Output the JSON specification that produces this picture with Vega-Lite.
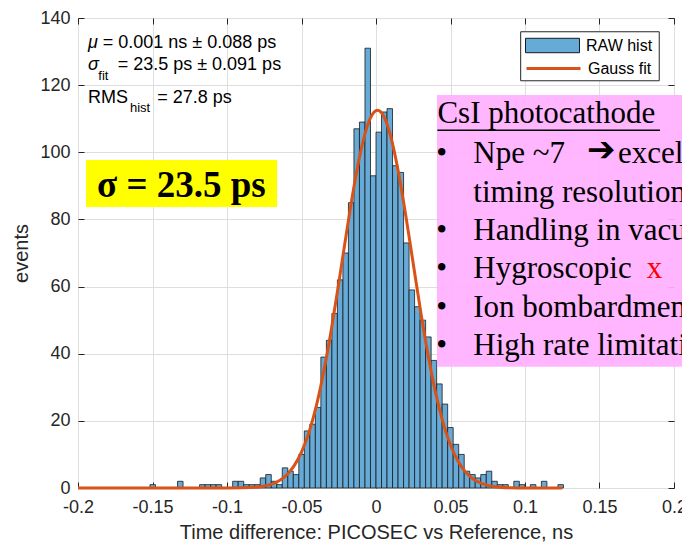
{
  "$schema": "https://vega.github.io/schema/vega-lite/v6.json",
  "width": 596,
  "height": 470,
  "autosize": {"type": "none"},
  "padding": {"left": 78, "top": 18, "right": 8, "bottom": 54},
  "config": {
    "view": {"stroke": "#262626", "strokeWidth": 1},
    "font": "Liberation Sans",
    "axis": {
      "labelFont": "Liberation Sans",
      "labelFontSize": 18,
      "labelColor": "#262626",
      "titleFont": "Liberation Sans",
      "titleFontSize": 20,
      "titleFontWeight": "normal",
      "titleColor": "#262626",
      "gridColor": "#dedede",
      "gridOpacity": 1,
      "tickColor": "#262626",
      "domain": false
    },
    "legend": {
      "labelFont": "Liberation Sans",
      "labelFontSize": 16,
      "labelColor": "#000000",
      "padding": 0,
      "symbolSize": 2916
    }
  },
  "resolve": {"axis": {"x": "independent", "y": "independent"}},
  "layer": [
    {
      "data": {"values": [
        {"bin_start": -0.1517, "bin_end": -0.148, "count": 1},
        {"bin_start": -0.1332, "bin_end": -0.1295, "count": 2},
        {"bin_start": -0.1184, "bin_end": -0.1147, "count": 1},
        {"bin_start": -0.1147, "bin_end": -0.111, "count": 1},
        {"bin_start": -0.111, "bin_end": -0.1073, "count": 1},
        {"bin_start": -0.1073, "bin_end": -0.1036, "count": 1},
        {"bin_start": -0.0962, "bin_end": -0.0925, "count": 2},
        {"bin_start": -0.0925, "bin_end": -0.0888, "count": 2},
        {"bin_start": -0.0888, "bin_end": -0.0851, "count": 1},
        {"bin_start": -0.0851, "bin_end": -0.0814, "count": 1},
        {"bin_start": -0.0814, "bin_end": -0.0777, "count": 1},
        {"bin_start": -0.0777, "bin_end": -0.074, "count": 3},
        {"bin_start": -0.074, "bin_end": -0.0703, "count": 4},
        {"bin_start": -0.0703, "bin_end": -0.0666, "count": 2},
        {"bin_start": -0.0666, "bin_end": -0.0629, "count": 1},
        {"bin_start": -0.0629, "bin_end": -0.0592, "count": 6},
        {"bin_start": -0.0592, "bin_end": -0.0555, "count": 5},
        {"bin_start": -0.0555, "bin_end": -0.0518, "count": 4},
        {"bin_start": -0.0518, "bin_end": -0.0481, "count": 10},
        {"bin_start": -0.0481, "bin_end": -0.0444, "count": 17},
        {"bin_start": -0.0444, "bin_end": -0.0407, "count": 19},
        {"bin_start": -0.0407, "bin_end": -0.037, "count": 24},
        {"bin_start": -0.037, "bin_end": -0.0333, "count": 39},
        {"bin_start": -0.0333, "bin_end": -0.0296, "count": 44},
        {"bin_start": -0.0296, "bin_end": -0.0259, "count": 52},
        {"bin_start": -0.0259, "bin_end": -0.0222, "count": 62},
        {"bin_start": -0.0222, "bin_end": -0.0185, "count": 70},
        {"bin_start": -0.0185, "bin_end": -0.0148, "count": 85},
        {"bin_start": -0.0148, "bin_end": -0.0111, "count": 107},
        {"bin_start": -0.0111, "bin_end": -0.0074, "count": 109},
        {"bin_start": -0.0074, "bin_end": -0.0037, "count": 131},
        {"bin_start": -0.0037, "bin_end": 0, "count": 93},
        {"bin_start": 0, "bin_end": 0.0037, "count": 106},
        {"bin_start": 0.0037, "bin_end": 0.0074, "count": 112},
        {"bin_start": 0.0074, "bin_end": 0.0111, "count": 113},
        {"bin_start": 0.0111, "bin_end": 0.0148, "count": 96},
        {"bin_start": 0.0148, "bin_end": 0.0185, "count": 94},
        {"bin_start": 0.0185, "bin_end": 0.0222, "count": 73},
        {"bin_start": 0.0222, "bin_end": 0.0259, "count": 59},
        {"bin_start": 0.0259, "bin_end": 0.0296, "count": 54},
        {"bin_start": 0.0296, "bin_end": 0.0333, "count": 50},
        {"bin_start": 0.0333, "bin_end": 0.037, "count": 45},
        {"bin_start": 0.037, "bin_end": 0.0407, "count": 38},
        {"bin_start": 0.0407, "bin_end": 0.0444, "count": 31},
        {"bin_start": 0.0444, "bin_end": 0.0481, "count": 25},
        {"bin_start": 0.0481, "bin_end": 0.0518, "count": 18},
        {"bin_start": 0.0518, "bin_end": 0.0555, "count": 13},
        {"bin_start": 0.0555, "bin_end": 0.0592, "count": 10},
        {"bin_start": 0.0592, "bin_end": 0.0629, "count": 5},
        {"bin_start": 0.0629, "bin_end": 0.0666, "count": 4},
        {"bin_start": 0.0666, "bin_end": 0.0703, "count": 3},
        {"bin_start": 0.0703, "bin_end": 0.074, "count": 4},
        {"bin_start": 0.074, "bin_end": 0.0777, "count": 5},
        {"bin_start": 0.0777, "bin_end": 0.0814, "count": 2},
        {"bin_start": 0.0814, "bin_end": 0.0851, "count": 1},
        {"bin_start": 0.0851, "bin_end": 0.0888, "count": 1},
        {"bin_start": 0.0925, "bin_end": 0.0962, "count": 2},
        {"bin_start": 0.0962, "bin_end": 0.0999, "count": 1},
        {"bin_start": 0.1036, "bin_end": 0.1073, "count": 1},
        {"bin_start": 0.111, "bin_end": 0.1147, "count": 2},
        {"bin_start": 0.1221, "bin_end": 0.1258, "count": 1}
      ]},
      "mark": {"type": "rect", "stroke": "#1a1a1a", "strokeWidth": 0.8, "opacity": 1},
      "encoding": {
        "x": {"field": "bin_start", "type": "quantitative",
          "scale": {"domain": [-0.2, 0.2], "nice": false, "zero": false},
          "axis": {"orient": "bottom", "title": "Time difference: PICOSEC vs Reference, ns",
            "values": [-0.2, -0.15, -0.1, -0.05, 0, 0.05, 0.1, 0.15, 0.2],
            "labelExpr": "datum.value == 0 ? '0' : (datum.value < 0 ? '-' : '') + format(abs(datum.value), '~g')",
            "grid": true, "tickSize": -6, "labelPadding": 16, "titlePadding": 6,
            "labelFlush": false, "labelOverlap": false}},
        "x2": {"field": "bin_end"},
        "y": {"field": "count", "type": "quantitative",
          "scale": {"domain": [0, 140], "nice": false},
          "axis": {"orient": "left", "title": "events", "values": [0, 20, 40, 60, 80, 100, 120, 140],
            "grid": true, "tickSize": -6, "labelPadding": 14, "titlePadding": 8, "labelFlush": false}},
        "y2": {"datum": 0},
        "fill": {"datum": "RAW hist", "type": "nominal",
          "scale": {"domain": ["RAW hist"], "range": ["#66AAD7"]},
          "legend": {"title": null, "orient": "none", "legendX": 447, "legendY": 0,
            "symbolType": "M-1,-0.267H1V0.267H-1Z", "symbolStrokeColor": "#1a1a1a",
            "symbolStrokeWidth": 1, "labelOffset": 6}}
      }
    },
    {
      "data": {"values": [
        {"t": -0.2, "g": 0}, {"t": -0.12, "g": 0}, {"t": -0.1, "g": 0.011}, {"t": -0.09, "g": 0.062},
        {"t": -0.08, "g": 0.3}, {"t": -0.075, "g": 0.6}, {"t": -0.07, "g": 1.17}, {"t": -0.065, "g": 2.18},
        {"t": -0.06, "g": 3.87}, {"t": -0.055, "g": 6.58}, {"t": -0.05, "g": 10.67}, {"t": -0.045, "g": 16.56},
        {"t": -0.04, "g": 24.56}, {"t": -0.035, "g": 34.81}, {"t": -0.03, "g": 47.14}, {"t": -0.025, "g": 61.01},
        {"t": -0.02, "g": 75.46}, {"t": -0.015, "g": 89.22}, {"t": -0.01, "g": 100.82}, {"t": -0.005, "g": 108.89},
        {"t": 0, "g": 112.4}, {"t": 0.001, "g": 112.5}, {"t": 0.005, "g": 110.88}, {"t": 0.01, "g": 104.55},
        {"t": 0.015, "g": 94.21}, {"t": 0.02, "g": 81.13}, {"t": 0.025, "g": 66.78}, {"t": 0.03, "g": 52.54},
        {"t": 0.035, "g": 39.49}, {"t": 0.04, "g": 28.38}, {"t": 0.045, "g": 19.5}, {"t": 0.05, "g": 12.79},
        {"t": 0.055, "g": 8.03}, {"t": 0.06, "g": 4.81}, {"t": 0.065, "g": 2.76}, {"t": 0.07, "g": 1.51},
        {"t": 0.075, "g": 0.79}, {"t": 0.08, "g": 0.4}, {"t": 0.09, "g": 0.087}, {"t": 0.1, "g": 0.016},
        {"t": 0.125, "g": 0}
      ]},
      "mark": {"type": "line", "strokeWidth": 3, "interpolate": "monotone"},
      "encoding": {
        "x": {"field": "t", "type": "quantitative",
          "scale": {"domain": [-0.2, 0.2], "nice": false, "zero": false},
          "axis": {"orient": "top", "title": null, "labels": false, "grid": false,
            "values": [-0.2, -0.15, -0.1, -0.05, 0, 0.05, 0.1, 0.15, 0.2], "tickSize": -6}},
        "y": {"field": "g", "type": "quantitative",
          "scale": {"domain": [0, 140], "nice": false},
          "axis": {"orient": "right", "title": null, "labels": false, "grid": false,
            "values": [0, 20, 40, 60, 80, 100, 120, 140], "tickSize": -6}},
        "stroke": {"datum": "Gauss fit", "type": "nominal",
          "scale": {"domain": ["Gauss fit"], "range": ["#D95319"]},
          "legend": {"title": null, "orient": "none", "legendX": 447, "legendY": 22,
            "symbolType": "stroke", "symbolStrokeWidth": 3, "labelOffset": 6}}
      }
    },
    {
      "data": {"values": [{"x1": 0.0971, "x2": 0.1901, "y1": 121.3, "y2": 135.9}]},
      "mark": {"type": "rect", "fill": "#ffffff", "stroke": "#262626", "strokeWidth": 1},
      "encoding": {
        "x": {"field": "x1", "type": "quantitative", "scale": {"domain": [-0.2, 0.2], "nice": false, "zero": false}, "axis": null},
        "x2": {"field": "x2"},
        "y": {"field": "y1", "type": "quantitative", "scale": {"domain": [0, 140], "nice": false}, "axis": null},
        "y2": {"field": "y2"}
      }
    },
    {
      "data": {"values": [
        {"x": -0.1933, "y": 131.0, "text": "μ"},
        {"x": -0.1933, "y": 124.5, "text": "σ"}
      ]},
      "mark": {"type": "text", "align": "left", "baseline": "alphabetic", "font": "Liberation Sans", "fontSize": 18, "fontStyle": "italic", "color": "#000000"},
      "encoding": {
        "x": {"field": "x", "type": "quantitative", "scale": {"domain": [-0.2, 0.2], "nice": false, "zero": false}, "axis": null},
        "y": {"field": "y", "type": "quantitative", "scale": {"domain": [0, 140], "nice": false}, "axis": null},
        "text": {"field": "text"}
      }
    },
    {
      "data": {"values": [
        {"x": -0.1834, "y": 131.0, "text": "= 0.001 ns ± 0.088 ps"},
        {"x": -0.1734, "y": 124.5, "text": "= 23.5 ps ± 0.091 ps"},
        {"x": -0.1933, "y": 114.6, "text": "RMS"},
        {"x": -0.1468, "y": 114.6, "text": "= 27.8 ps"}
      ]},
      "mark": {"type": "text", "align": "left", "baseline": "alphabetic", "font": "Liberation Sans", "fontSize": 18, "color": "#000000"},
      "encoding": {
        "x": {"field": "x", "type": "quantitative", "scale": {"domain": [-0.2, 0.2], "nice": false, "zero": false}, "axis": null},
        "y": {"field": "y", "type": "quantitative", "scale": {"domain": [0, 140], "nice": false}, "axis": null},
        "text": {"field": "text"}
      }
    },
    {
      "data": {"values": [
        {"x": -0.1864, "y": 121.5, "text": "fit"},
        {"x": -0.1651, "y": 112.1, "text": "hist"}
      ]},
      "mark": {"type": "text", "align": "left", "baseline": "alphabetic", "font": "Liberation Sans", "fontSize": 13, "color": "#000000"},
      "encoding": {
        "x": {"field": "x", "type": "quantitative", "scale": {"domain": [-0.2, 0.2], "nice": false, "zero": false}, "axis": null},
        "y": {"field": "y", "type": "quantitative", "scale": {"domain": [0, 140], "nice": false}, "axis": null},
        "text": {"field": "text"}
      }
    },
    {
      "data": {"values": [{"x1": -0.1946, "x2": -0.0664, "y1": 83.7, "y2": 97.7}]},
      "mark": {"type": "rect", "color": "#FFFF00"},
      "encoding": {
        "x": {"field": "x1", "type": "quantitative", "scale": {"domain": [-0.2, 0.2], "nice": false, "zero": false}, "axis": null},
        "x2": {"field": "x2"},
        "y": {"field": "y1", "type": "quantitative", "scale": {"domain": [0, 140], "nice": false}, "axis": null},
        "y2": {"field": "y2"}
      }
    },
    {
      "data": {"values": [{"x": -0.1872, "y": 86.7, "text": "σ = 23.5 ps"}]},
      "mark": {"type": "text", "align": "left", "baseline": "alphabetic", "font": "Liberation Serif", "fontSize": 37, "fontWeight": "bold", "color": "#000000"},
      "encoding": {
        "x": {"field": "x", "type": "quantitative", "scale": {"domain": [-0.2, 0.2], "nice": false, "zero": false}, "axis": null},
        "y": {"field": "y", "type": "quantitative", "scale": {"domain": [0, 140], "nice": false}, "axis": null},
        "text": {"field": "text"}
      }
    },
    {
      "data": {"values": [{"x1": 0.0409, "x2": 0.3, "y1": 36.1, "y2": 117.1}]},
      "mark": {"type": "rect", "color": "#FFB0FF", "opacity": 0.93},
      "encoding": {
        "x": {"field": "x1", "type": "quantitative", "scale": {"domain": [-0.2, 0.2], "nice": false, "zero": false}, "axis": null},
        "x2": {"field": "x2"},
        "y": {"field": "y1", "type": "quantitative", "scale": {"domain": [0, 140], "nice": false}, "axis": null},
        "y2": {"field": "y2"}
      }
    },
    {
      "data": {"values": [
        {"x": 0.0412, "y": 108.6, "text": "CsI photocathode"},
        {"x": 0.0653, "y": 96.7, "text": "Npe ~7"},
        {"x": 0.1624, "y": 96.7, "text": "excellent"},
        {"x": 0.0653, "y": 85.3, "text": "timing resolution"},
        {"x": 0.0653, "y": 73.9, "text": "Handling in vacuum"},
        {"x": 0.0653, "y": 62.5, "text": "Hygroscopic"},
        {"x": 0.0653, "y": 50.9, "text": "Ion bombardment"},
        {"x": 0.0653, "y": 39.5, "text": "High rate limitation"}
      ]},
      "mark": {"type": "text", "align": "left", "baseline": "alphabetic", "font": "Liberation Serif", "fontSize": 31, "color": "#000000"},
      "encoding": {
        "x": {"field": "x", "type": "quantitative", "scale": {"domain": [-0.2, 0.2], "nice": false, "zero": false}, "axis": null},
        "y": {"field": "y", "type": "quantitative", "scale": {"domain": [0, 140], "nice": false}, "axis": null},
        "text": {"field": "text"}
      }
    },
    {
      "data": {"values": [{"x": 0.1416, "y": 97.5, "text": "➔"}]},
      "mark": {"type": "text", "align": "left", "baseline": "alphabetic", "font": "DejaVu Sans", "fontSize": 34, "fontWeight": "bold", "color": "#000000"},
      "encoding": {
        "x": {"field": "x", "type": "quantitative", "scale": {"domain": [-0.2, 0.2], "nice": false, "zero": false}, "axis": null},
        "y": {"field": "y", "type": "quantitative", "scale": {"domain": [0, 140], "nice": false}, "axis": null},
        "text": {"field": "text"}
      }
    },
    {
      "data": {"values": [
        {"x": 0.0441, "y": 96.7, "text": "•"},
        {"x": 0.0441, "y": 73.9, "text": "•"},
        {"x": 0.0441, "y": 62.5, "text": "•"},
        {"x": 0.0441, "y": 50.9, "text": "•"},
        {"x": 0.0441, "y": 39.5, "text": "•"}
      ]},
      "mark": {"type": "text", "align": "center", "baseline": "alphabetic", "font": "Liberation Serif", "fontSize": 31, "color": "#000000"},
      "encoding": {
        "x": {"field": "x", "type": "quantitative", "scale": {"domain": [-0.2, 0.2], "nice": false, "zero": false}, "axis": null},
        "y": {"field": "y", "type": "quantitative", "scale": {"domain": [0, 140], "nice": false}, "axis": null},
        "text": {"field": "text"}
      }
    },
    {
      "data": {"values": [{"x": 0.1817, "y": 62.5, "text": "x"}]},
      "mark": {"type": "text", "align": "left", "baseline": "alphabetic", "font": "Liberation Serif", "fontSize": 31, "color": "#FF0000"},
      "encoding": {
        "x": {"field": "x", "type": "quantitative", "scale": {"domain": [-0.2, 0.2], "nice": false, "zero": false}, "axis": null},
        "y": {"field": "y", "type": "quantitative", "scale": {"domain": [0, 140], "nice": false}, "axis": null},
        "text": {"field": "text"}
      }
    },
    {
      "data": {"values": [{"x1": 0.0412, "x2": 0.1906, "y": 106.6}]},
      "mark": {"type": "rule", "color": "#000000", "strokeWidth": 1.5},
      "encoding": {
        "x": {"field": "x1", "type": "quantitative", "scale": {"domain": [-0.2, 0.2], "nice": false, "zero": false}, "axis": null},
        "x2": {"field": "x2"},
        "y": {"field": "y", "type": "quantitative", "scale": {"domain": [0, 140], "nice": false}, "axis": null}
      }
    }
  ]
}
